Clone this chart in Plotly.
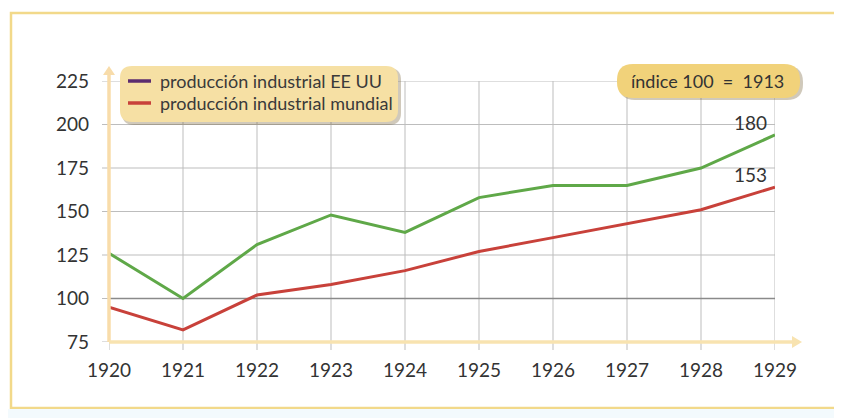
import plotly.graph_objects as go

years = [1920, 1921, 1922, 1923, 1924, 1925, 1926, 1927, 1928, 1929]
eeuu = [126, 100, 131, 148, 138, 158, 165, 165, 175, 194]
mundial = [95, 82, 102, 108, 116, 127, 135, 143, 151, 164]
yticks = [75, 100, 125, 150, 175, 200, 225]
legend_labels = ["producción industrial EE UU", "producción industrial mundial"]
legend_colors = ["#5B2C6F", "#C8413A"]
end_labels = ["180", "153"]
badge_text = "índice 100  =  1913"

# page body has an 8px margin; work in screen coordinates and shift
OFF = 8
W, H = 842, 418
L, R, T, B = 109, 775, 81, 342
FONT = "Lato"

def px(x):
    return (x - L) / (R - L)

def py(y):
    return (B - y) / (B - T)

def rrect(x0, y0, x1, y1, r):
    return (f"M {px(x0+r)} {py(y0)} L {px(x1-r)} {py(y0)} Q {px(x1)} {py(y0)} {px(x1)} {py(y0+r)} "
            f"L {px(x1)} {py(y1-r)} Q {px(x1)} {py(y1)} {px(x1-r)} {py(y1)} "
            f"L {px(x0+r)} {py(y1)} Q {px(x0)} {py(y1)} {px(x0)} {py(y1-r)} "
            f"L {px(x0)} {py(y0+r)} Q {px(x0)} {py(y0)} {px(x0+r)} {py(y0)} Z")

fig = go.Figure()
fig.add_trace(go.Scatter(x=years, y=eeuu, mode="lines", line=dict(color="#5FA848", width=3),
                         showlegend=False, hoverinfo="skip"))
fig.add_trace(go.Scatter(x=years, y=mundial, mode="lines", line=dict(color="#C8413A", width=3),
                         showlegend=False, hoverinfo="skip"))

shapes = []
# outer frame
shapes.append(dict(type="rect", xref="paper", yref="paper", x0=px(11), x1=px(870), y0=py(13), y1=py(408),
                   line=dict(color="#F2D98A", width=2.5), fillcolor="rgba(0,0,0,0)", layer="below"))
shapes.append(dict(type="rect", xref="paper", yref="paper", x0=px(8), x1=px(842), y0=py(409), y1=py(418),
                   line=dict(width=0), fillcolor="#F3FAFD", layer="below"))
# gridlines
for yv in yticks:
    shapes.append(dict(type="line", xref="x", yref="y", x0=years[0], x1=years[-1], y0=yv, y1=yv,
                       line=dict(color="#8A8A8A" if yv == 100 else "#BDBDBD", width=1.3 if yv == 100 else 1),
                       layer="below"))
    shapes.append(dict(type="line", xref="paper", yref="y", x0=px(102), x1=px(109), y0=yv, y1=yv,
                       line=dict(color="#BDBDBD", width=1), layer="below"))
for xv in years:
    shapes.append(dict(type="line", xref="x", yref="paper", x0=xv, x1=xv, y0=py(350), y1=1,
                       line=dict(color="#BDBDBD", width=1), layer="below"))
# axes with arrows
shapes.append(dict(type="line", xref="paper", yref="paper", x0=0, x1=0, y0=0, y1=py(72),
                   line=dict(color="#F8DCAA", width=3.5)))
shapes.append(dict(type="path", xref="paper", yref="paper",
                   path=f"M {px(103)} {py(75)} L {px(109)} {py(66)} L {px(115)} {py(75)} Z",
                   fillcolor="#F8DCAA", line=dict(width=0)))
shapes.append(dict(type="line", xref="paper", yref="paper", x0=0, x1=px(795), y0=0, y1=0,
                   line=dict(color="#F8E3B0", width=3.5)))
shapes.append(dict(type="path", xref="paper", yref="paper",
                   path=f"M {px(792)} {py(336)} L {px(802)} {py(342)} L {px(792)} {py(348)} Z",
                   fillcolor="#F8E3B0", line=dict(width=0)))
# legend box
shapes.append(dict(type="path", xref="paper", yref="paper", path=rrect(122, 68, 401, 125, 12),
                   fillcolor="rgba(120,100,60,0.35)", line=dict(width=0)))
shapes.append(dict(type="path", xref="paper", yref="paper", path=rrect(120, 66, 398, 122, 12),
                   fillcolor="#F6E0A4", line=dict(width=0)))
# badge
shapes.append(dict(type="path", xref="paper", yref="paper", path=rrect(619, 66, 803, 100, 16),
                   fillcolor="rgba(120,100,60,0.35)", line=dict(width=0)))
shapes.append(dict(type="path", xref="paper", yref="paper", path=rrect(617, 64, 800, 98, 16),
                   fillcolor="#F1D27A", line=dict(width=0)))

annotations = []
for i, (lab, col) in enumerate(zip(legend_labels, legend_colors)):
    yy = 81 + i * 22
    shapes.append(dict(type="line", xref="paper", yref="paper", x0=px(128), x1=px(151), y0=py(yy), y1=py(yy),
                       line=dict(color=col, width=3.5)))
    annotations.append(dict(xref="paper", yref="paper", x=px(158), y=py(yy), text=lab, showarrow=False,
                            xanchor="left", yanchor="middle", font=dict(family=FONT, size=18, color="#3A3A3A")))
annotations.append(dict(xref="paper", yref="paper", x=px(707), y=py(81), text=badge_text, showarrow=False,
                        xanchor="center", yanchor="middle", font=dict(family=FONT, size=18, color="#333333")))
annotations.append(dict(x=years[-1], y=eeuu[-1], text=end_labels[0], showarrow=False, xanchor="right",
                        yanchor="bottom", xshift=-6, yshift=-1, font=dict(family=FONT, size=19, color="#333333")))
annotations.append(dict(x=years[-1], y=mundial[-1], text=end_labels[1], showarrow=False, xanchor="right",
                        yanchor="bottom", xshift=-6, yshift=-1, font=dict(family=FONT, size=19, color="#333333")))

fig.update_layout(
    width=W - OFF, height=H - OFF,
    margin=dict(l=L - OFF, r=W - R, t=T - OFF, b=H - B, pad=0),
    paper_bgcolor="white", plot_bgcolor="white",
    xaxis=dict(range=[years[0], years[-1]], tickvals=years, ticktext=[str(y) for y in years],
               showgrid=False, zeroline=False, showline=False, ticks="", ticklabelstandoff=15,
               tickfont=dict(family=FONT, size=19, color="#333333")),
    yaxis=dict(range=[75, 225], tickvals=yticks, showgrid=False, zeroline=False, showline=False,
               ticks="", ticklabelstandoff=19, tickfont=dict(family=FONT, size=19, color="#333333")),
    shapes=shapes, annotations=annotations, showlegend=False,
)
fig.write_html("out.html")
